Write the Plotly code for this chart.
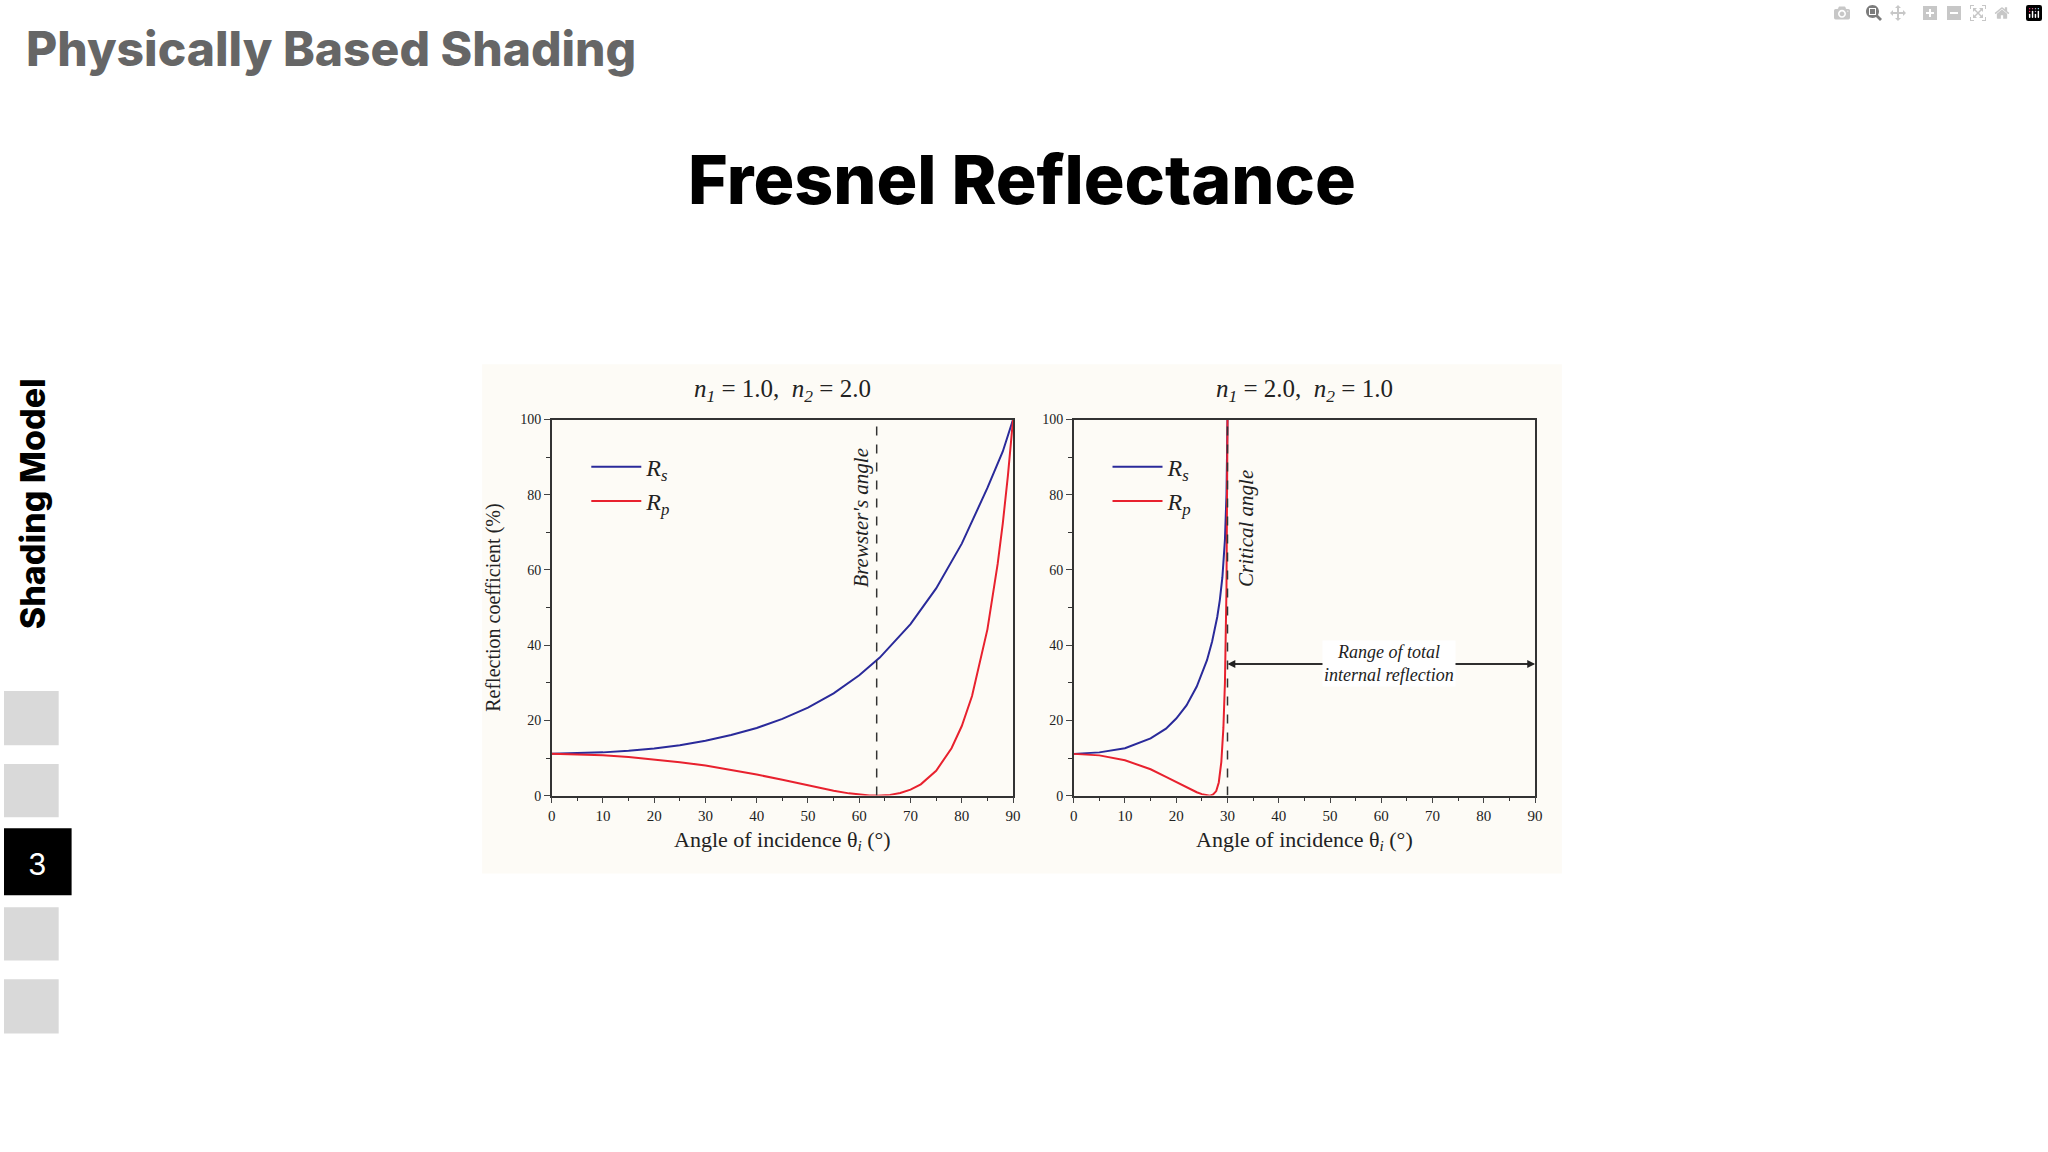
import plotly.graph_objects as go

# Left panel: n1=1.0, n2=2.0 (%)
ang_s1 = [0, 5, 10, 15, 20, 25, 30, 35, 40, 45, 50, 55, 60, 64, 70, 75, 80, 85, 88, 90]
rs1 = [11.1, 11.2, 11.5, 11.9, 12.5, 13.4, 14.6, 16.1, 18.0, 20.4, 23.4, 27.2, 32.0, 36.7, 45.6, 55.1, 67.0, 81.8, 91.5, 100]
ang_p1 = [0, 5, 10, 15, 20, 25, 30, 35, 40, 45, 50, 55, 58, 60, 62, 63.4, 65, 66, 68, 70, 72, 75, 78, 80, 82, 85, 87, 88, 89, 90]
rp1 = [11.1, 11.0, 10.7, 10.3, 9.7, 8.9, 8.0, 6.9, 5.6, 4.2, 2.7, 1.3, 0.6, 0.27, 0.05, 0.0, 0.08, 0.2, 0.7, 1.6, 3.0, 6.6, 12.6, 18.5, 26.5, 44.2, 61.6, 72.4, 85.1, 100]
# Right panel: n1=2.0, n2=1.0
ang_s2 = [0, 5, 10, 15, 18, 20, 22, 24, 26, 27, 28, 28.5, 29, 29.5, 29.8, 29.95, 30]
rs2 = [11.1, 11.5, 12.6, 15.2, 17.8, 20.5, 24.0, 29.0, 36.0, 41.0, 47.5, 52.0, 58.0, 68.0, 80.0, 90.0, 100]
ang_p2 = [0, 5, 10, 15, 18, 20, 22, 24, 25, 26, 26.6, 27.2, 27.8, 28.3, 28.8, 29.2, 29.5, 29.8, 30]
rp2 = [11.1, 10.7, 9.4, 7.0, 5.0, 3.6, 2.2, 0.9, 0.4, 0.1, 0.0, 0.3, 1.2, 3.5, 9.0, 18.0, 30.0, 55.0, 100]

brewster = 63.4
critical = 30.0
x_ticks = [0, 10, 20, 30, 40, 50, 60, 70, 80, 90]
y_ticks = [0, 20, 40, 60, 80, 100]

BLUE = "#2a2a9a"
RED = "#e8212e"
SERIF = "Liberation Serif"

fig = go.Figure()
fig.add_trace(go.Scatter(x=ang_s1, y=rs1, mode="lines", line=dict(color=BLUE, width=2),
                         name="<i>R<sub>s</sub></i>", xaxis="x", yaxis="y", legend="legend"))
fig.add_trace(go.Scatter(x=ang_p1, y=rp1, mode="lines", line=dict(color=RED, width=2),
                         name="<i>R<sub>p</sub></i>", xaxis="x", yaxis="y", legend="legend"))
fig.add_trace(go.Scatter(x=ang_s2, y=rs2, mode="lines", line=dict(color=BLUE, width=2),
                         name="<i>R<sub>s</sub></i>", xaxis="x2", yaxis="y2", legend="legend2"))
fig.add_trace(go.Scatter(x=ang_p2, y=rp2, mode="lines", line=dict(color=RED, width=2),
                         name="<i>R<sub>p</sub></i>", xaxis="x2", yaxis="y2", legend="legend2"))

def xax(domain, anchor):
    return dict(domain=domain, anchor=anchor, range=[0, 90], tickvals=x_ticks, ticks="outside", ticklen=6,
                minor=dict(dtick=5, ticks="outside", ticklen=4, tickcolor="#333"),
                showline=True, linecolor="#333", linewidth=1.5, mirror=True, showgrid=False, zeroline=False,
                tickfont=dict(family=SERIF, size=15, color="#222"),
                title=dict(text="Angle of incidence θ<sub><i>i</i></sub> (°)", font=dict(family=SERIF, size=22, color="#222"), standoff=8))

def yax(domain, anchor, title):
    d = dict(domain=domain, anchor=anchor, range=[0, 100], tickvals=y_ticks, ticks="outside", ticklen=6,
             minor=dict(dtick=10, ticks="outside", ticklen=4, tickcolor="#333"),
             showline=True, linecolor="#333", linewidth=1.5, mirror=True, showgrid=False, zeroline=False,
             tickfont=dict(family=SERIF, size=14, color="#222"))
    if title:
        d["title"] = dict(text=title, font=dict(family=SERIF, size=20, color="#222"), standoff=14)
    return d

ydom = [0.3064, 0.6372]
fig.update_layout(
    width=2048, height=1152, margin=dict(l=0, r=0, t=0, b=0),
    paper_bgcolor="white", plot_bgcolor="white", showlegend=True,
    xaxis=xax([0.269, 0.4956], "y"), yaxis=yax(ydom, "x", "Reflection coefficient (%)"),
    xaxis2=xax([0.5254, 0.752], "y2"), yaxis2=yax(ydom, "x2", None),
    legend=dict(x=0.286, y=0.615, xanchor="left", yanchor="top", bgcolor="rgba(0,0,0,0)",
                font=dict(family=SERIF, size=24, color="#222"), itemwidth=50, tracegroupgap=0),
    legend2=dict(x=0.542, y=0.615, xanchor="left", yanchor="top", bgcolor="rgba(0,0,0,0)",
                 font=dict(family=SERIF, size=24, color="#222"), itemwidth=50, tracegroupgap=0),
)

shapes = [
    dict(type="rect", xref="paper", yref="paper", x0=481/2048, x1=1567/2048, y0=1-878/1152, y1=1-362/1152,
         fillcolor="#fdfbf6", line=dict(width=0), layer="below"),
    dict(type="line", xref="x", yref="y", x0=brewster, x1=brewster, y0=0, y1=100, line=dict(color="#333", width=1.5, dash="dash")),
    dict(type="line", xref="x2", yref="y2", x0=critical, x1=critical, y0=0, y1=100, line=dict(color="#333", width=1.5, dash="dash")),
]
for (y0, y1, col, x1) in [(693, 748, "#d9d9d9", 55), (767, 821, "#d9d9d9", 55), (832, 900, "#000000", 68),
                          (912, 966, "#d9d9d9", 55), (985, 1040, "#d9d9d9", 55)]:
    shapes.append(dict(type="rect", xref="paper", yref="paper", x0=0, x1=x1/2048, y0=1-y1/1152, y1=1-y0/1152,
                       fillcolor=col, line=dict(width=0)))
fig.update_layout(shapes=shapes)

ann = [
    dict(text="Physically Based Shading", xref="paper", yref="paper", x=20/2048, y=1-42/1152, xanchor="left", yanchor="middle",
         showarrow=False, font=dict(family="Inter", size=48, color="#666666", weight=800)),
    dict(text="Fresnel Reflectance", xref="paper", yref="paper", x=1024/2048, y=1-174/1152, xanchor="center", yanchor="middle",
         showarrow=False, font=dict(family="Inter", size=68, color="#000000", weight=800)),
    dict(text="Shading Model", xref="paper", yref="paper", x=29/2048, y=1-503/1152, textangle=-90, xanchor="center", yanchor="middle",
         showarrow=False, font=dict(family="Inter", size=34, color="#000000", weight=800)),
    dict(text="3", xref="paper", yref="paper", x=34/2048, y=1-868/1152, xanchor="center", yanchor="middle", showarrow=False,
         font=dict(family="Inter", size=30, color="white")),
    dict(text="<i>n<sub>1</sub></i> = 1.0,  <i>n<sub>2</sub></i> = 2.0", xref="paper", yref="paper", x=783/2048, y=1-389/1152,
         showarrow=False, font=dict(family=SERIF, size=25, color="#222")),
    dict(text="<i>n<sub>1</sub></i> = 2.0,  <i>n<sub>2</sub></i> = 1.0", xref="paper", yref="paper", x=1308/2048, y=1-389/1152,
         showarrow=False, font=dict(family=SERIF, size=25, color="#222")),
    dict(text="<i>Brewster's angle</i>", xref="x", yref="y", x=brewster - 3, y=74, textangle=-90, showarrow=False,
         font=dict(family=SERIF, size=21, color="#222")),
    dict(text="<i>Critical angle</i>", xref="x2", yref="y2", x=critical + 3.5, y=71, textangle=-90, showarrow=False,
         font=dict(family=SERIF, size=21, color="#222")),
    dict(x=critical, y=35, ax=90, ay=35, xref="x2", yref="y2", axref="x2", ayref="y2", text="", showarrow=True,
         arrowhead=2, arrowsize=1.2, arrowwidth=1.3, arrowcolor="#222"),
    dict(x=90, y=35, ax=critical, ay=35, xref="x2", yref="y2", axref="x2", ayref="y2", text="", showarrow=True,
         arrowhead=2, arrowsize=1.2, arrowwidth=1.3, arrowcolor="#222"),
    dict(text="<i>Range of total<br>internal reflection</i>", xref="x2", yref="y2", x=61.5, y=35, showarrow=False,
         bgcolor="white", font=dict(family=SERIF, size=18, color="#222")),
]
fig.update_layout(annotations=ann)
fig.write_html("out.html", post_script="document.body.style.margin='0';")
